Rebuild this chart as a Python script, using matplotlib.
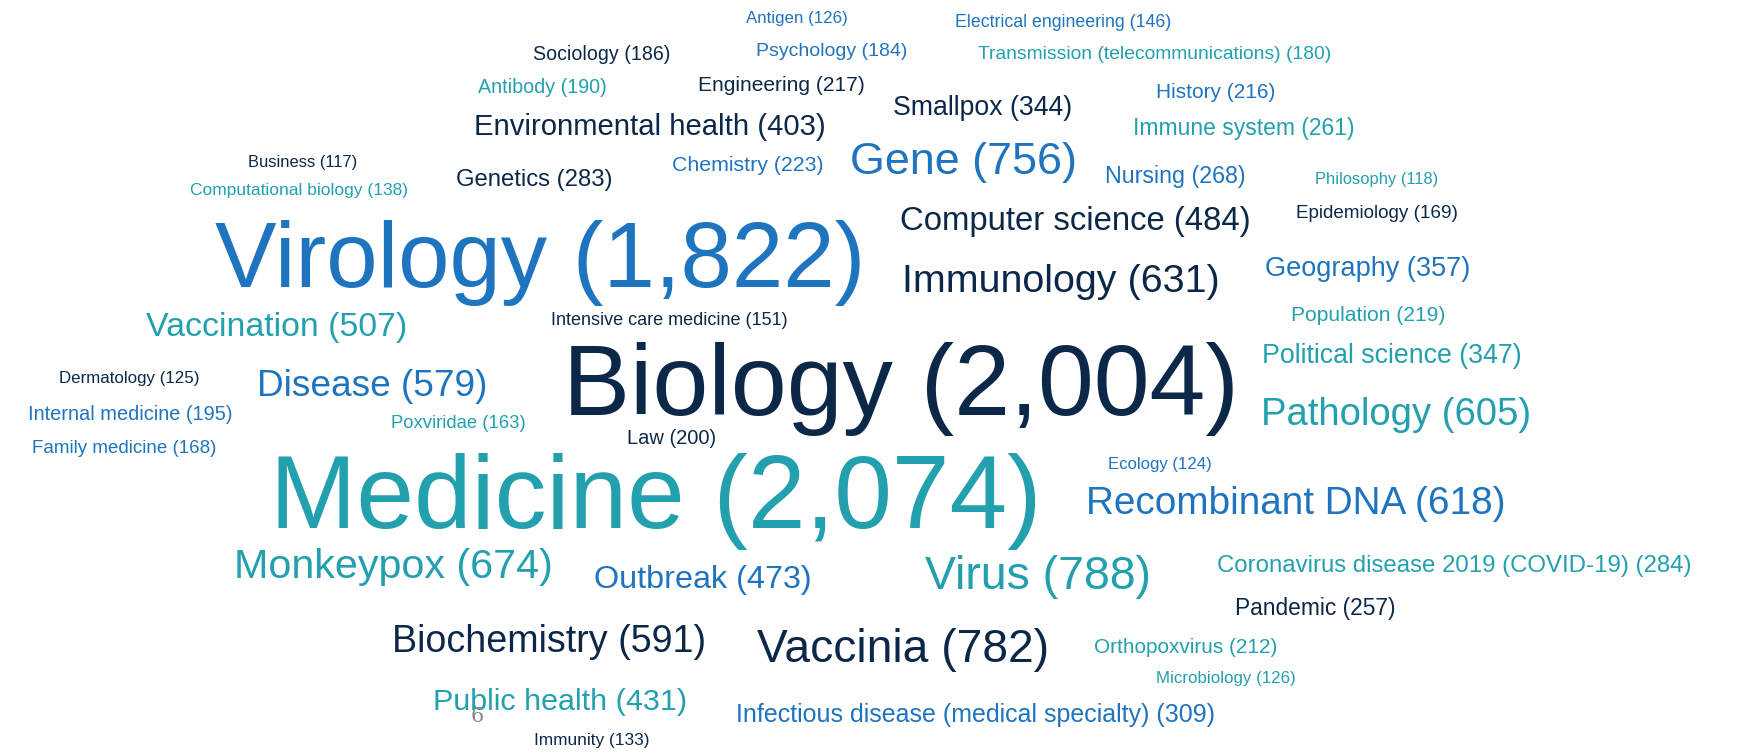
import matplotlib.pyplot as plt

# word cloud of topics with publication counts

words = [
  'Antigen', 'Electrical engineering', 'Sociology', 'Psychology',
  'Transmission (telecommunications)', 'Antibody', 'Engineering', 'History',
  'Smallpox', 'Environmental health', 'Immune system', 'Business',
  'Chemistry', 'Gene', 'Nursing', 'Philosophy', 'Computational biology',
  'Genetics', 'Computer science', 'Epidemiology', 'Virology', 'Immunology',
  'Geography', 'Vaccination', 'Intensive care medicine', 'Population',
  'Biology', 'Political science', 'Dermatology', 'Disease',
  'Internal medicine', 'Poxviridae', 'Pathology', 'Law', 'Family medicine',
  'Ecology', 'Medicine', 'Recombinant DNA', 'Monkeypox', 'Outbreak', 'Virus',
  'Coronavirus disease 2019 (COVID-19)', 'Pandemic', 'Biochemistry',
  'Vaccinia', 'Orthopoxvirus', 'Microbiology', 'Public health',
  'Infectious disease (medical specialty)', 'Immunity'
]

counts = [
  126, 146, 186, 184, 180, 190, 217, 216, 344, 403, 261, 117, 223, 756, 268,
  118, 138, 283, 484, 169, 1822, 631, 357, 507, 151, 219, 2004, 347, 125, 579,
  195, 163, 605, 200, 168, 124, 2074, 618, 674, 473, 788, 284, 257, 591, 782,
  212, 126, 431, 309, 133
]

# colour group of each word: n = navy, b = blue, t = teal
groups = [
  'b', 'b', 'n', 'b', 't', 't', 'n', 'b', 'n', 'n', 't', 'n', 'b', 'b', 'b',
  't', 't', 'n', 'n', 'n', 'b', 'n', 'b', 't', 'n', 't', 'n', 't', 'n', 'b',
  'b', 't', 't', 'n', 'b', 'b', 't', 'b', 't', 'b', 't', 't', 'n', 'n', 'n',
  't', 't', 't', 'b', 'n'
]

# layout: centre of every word (in a 1568 x 680 frame)
pos_x = [
  719, 960, 543, 751, 1042, 490, 705, 1097, 887, 587, 1123, 273, 675, 870,
  1061, 1243, 270, 482, 971, 1243, 488, 958, 1235, 250, 604, 1235, 813, 1256,
  117, 336, 118, 414, 1260, 606, 112, 1047, 592, 1170, 355, 634, 937, 1313,
  1187, 496, 815, 1070, 1107, 506, 881, 534
]
pos_y = [
  16, 19, 48, 45, 48, 78, 76, 82, 96, 113, 115, 146, 148, 144, 158, 161, 171,
  161, 198, 192, 232, 252, 241, 294, 288, 284, 345, 320, 341, 347, 373, 381,
  372, 395, 404, 418, 446, 453, 509, 522, 518, 510, 548, 577, 584, 583, 612,
  632, 644, 668
]

palette = {'n': '#0c2848', 'b': '#1f74bf', 't': '#23a0ad'}

plt.rcParams['font.family'] = ['Liberation Sans', 'DejaVu Sans']

fig = plt.figure(figsize=(17.37, 7.53), dpi=100)
ax = fig.add_axes([0, 0, 1, 1])
ax.set_xlim(0, 1568)
ax.set_ylim(680, 0)
ax.axis('off')

for w, c, g, x, y in zip(words, counts, groups, pos_x, pos_y):
  # font size grows linearly with the count (pixels -> points)
  px = 11.3 + 0.0445 * c
  # nudge down a bit: the text box centre sits above the visual centre
  ax.text(x, y + 0.07 * px / 1.1078, f'{w} ({c:,})', fontsize=px * 0.72,
          color=palette[g], ha='center', va='center')

# stray page number in the source image
ax.text(431, 647, '6', fontsize=15, color='#888888', family='DejaVu Serif',
        ha='center', va='center')

fig.savefig('out.png', dpi=100)
